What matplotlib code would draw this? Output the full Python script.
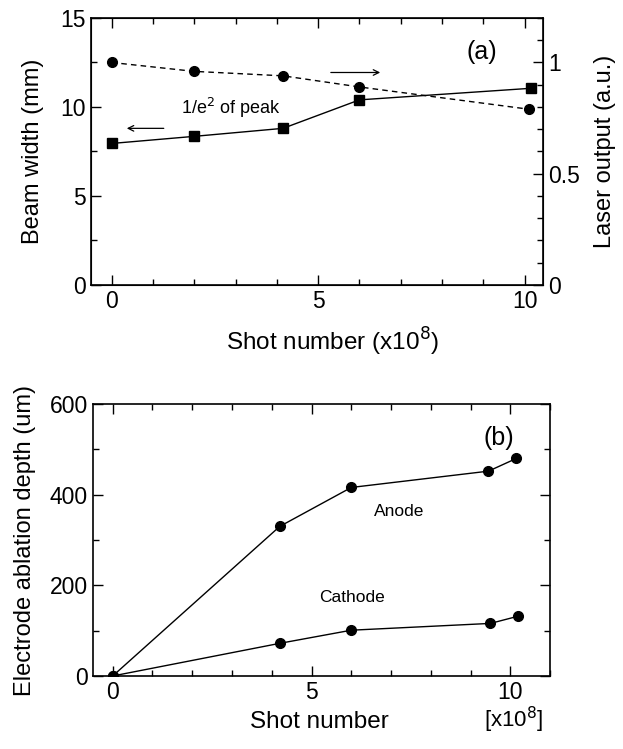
import numpy as np
import matplotlib.pyplot as plt
from matplotlib.ticker import MultipleLocator

plt.rcParams['font.family'] = ['Liberation Sans', 'DejaVu Sans']

# (a) beam width and laser output vs shot number
shot_a = [0, 2, 4.15, 6, 10.15]
beam_width = [7.95, 8.35, 8.8, 10.4, 11.05]
shot_out = [0, 2, 4.15, 6, 10.1]
laser_out = [1.0, 0.96, 0.94, 0.89, 0.79]

# (b) electrode ablation depth
shot_anode = [0, 4.2, 6, 9.45, 10.15]
anode = [0, 330, 416, 452, 480]
shot_cath = [0, 4.2, 6, 9.5, 10.2]
cathode = [0, 72, 101, 116, 132]

fig = plt.figure(figsize=(6.23, 7.49), dpi=100)

def style_ax(ax):
    ax.tick_params(which='both', direction='in', top=True, labelsize=16.5)
    ax.tick_params(which='major', length=7, width=1)
    ax.tick_params(which='minor', length=4, width=1)
    for s in ax.spines.values():
        s.set_linewidth(1.2)

ax1 = fig.add_axes([0.146, 0.6195, 0.726, 0.3565])
ax1.plot(shot_a, beam_width, 'k-', marker='s', ms=7, lw=1)
ax1.set_xlim(-0.5, 10.45)
ax1.set_ylim(0, 15)
ax1.xaxis.set_major_locator(MultipleLocator(5))
ax1.xaxis.set_minor_locator(MultipleLocator(1))
ax1.yaxis.set_major_locator(MultipleLocator(5))
ax1.yaxis.set_minor_locator(MultipleLocator(2.5))
style_ax(ax1)
ax1.set_ylabel('Beam width (mm)', fontsize=17, va='center')
ax1.yaxis.set_label_coords(-0.128, 0.5)
ax1.set_xlabel('Shot number (x10$^8$)', fontsize=17.5, va='center')
ax1.xaxis.set_label_coords(0.535, -0.213)
ax1.text(1.67, 9.95, '1/e$^2$ of peak', fontsize=13, ha='left', va='center')
ax1.annotate('', xy=(0.3, 8.8), xytext=(1.33, 8.8),
             arrowprops=dict(arrowstyle='->', lw=0.9, color='k'))
ax1.text(8.96, 13.1, '(a)', fontsize=18, ha='center', va='center')

ax1r = ax1.twinx()
ax1r.plot(shot_out, laser_out, 'k--', marker='o', ms=7, lw=1, dashes=(4, 3))
ax1r.set_ylim(0, 1.2)
ax1r.yaxis.set_major_locator(MultipleLocator(0.5))
ax1r.yaxis.set_minor_locator(MultipleLocator(0.1))
ax1r.yaxis.set_major_formatter(plt.FuncFormatter(lambda v, p: '%g' % v))
ax1r.tick_params(which='both', direction='in', labelsize=16.5)
ax1r.tick_params(which='major', length=7, width=1)
ax1r.tick_params(which='minor', length=4, width=1)
ax1r.set_ylabel('Laser output (a.u.)', fontsize=17, va='center')
ax1r.yaxis.set_label_coords(1.137, 0.5)
ax1r.annotate('', xy=(6.57, 0.955), xytext=(5.24, 0.955),
              arrowprops=dict(arrowstyle='->', lw=0.9, color='k'))

ax2 = fig.add_axes([0.149, 0.0975, 0.734, 0.363])
ax2.plot(shot_anode, anode, 'k-', marker='o', ms=7, lw=1)
ax2.plot(shot_cath, cathode, 'k-', marker='o', ms=7, lw=1)
ax2.set_xlim(-0.5, 11.0)
ax2.set_ylim(0, 600)
ax2.xaxis.set_major_locator(MultipleLocator(5))
ax2.xaxis.set_minor_locator(MultipleLocator(1))
ax2.yaxis.set_major_locator(MultipleLocator(200))
ax2.yaxis.set_minor_locator(MultipleLocator(100))
style_ax(ax2)
ax2.tick_params(which='both', right=True)
ax2.set_ylabel('Electrode ablation depth (um)', fontsize=17, va='center')
ax2.yaxis.set_label_coords(-0.149, 0.5)
ax2.set_xlabel('Shot number', fontsize=17.5, va='center')
ax2.xaxis.set_label_coords(0.496, -0.168)
ax2.text(7.2, 362, 'Anode', fontsize=12.5, ha='center', va='center')
ax2.text(6.03, 174, 'Cathode', fontsize=12.5, ha='center', va='center')
ax2.text(9.72, 525, '(b)', fontsize=18, ha='center', va='center')
ax2.text(0.921, -0.16, '[x10$^8$]', fontsize=16, ha='center', va='center',
         transform=ax2.transAxes)

fig.savefig('out.png', dpi=100)
